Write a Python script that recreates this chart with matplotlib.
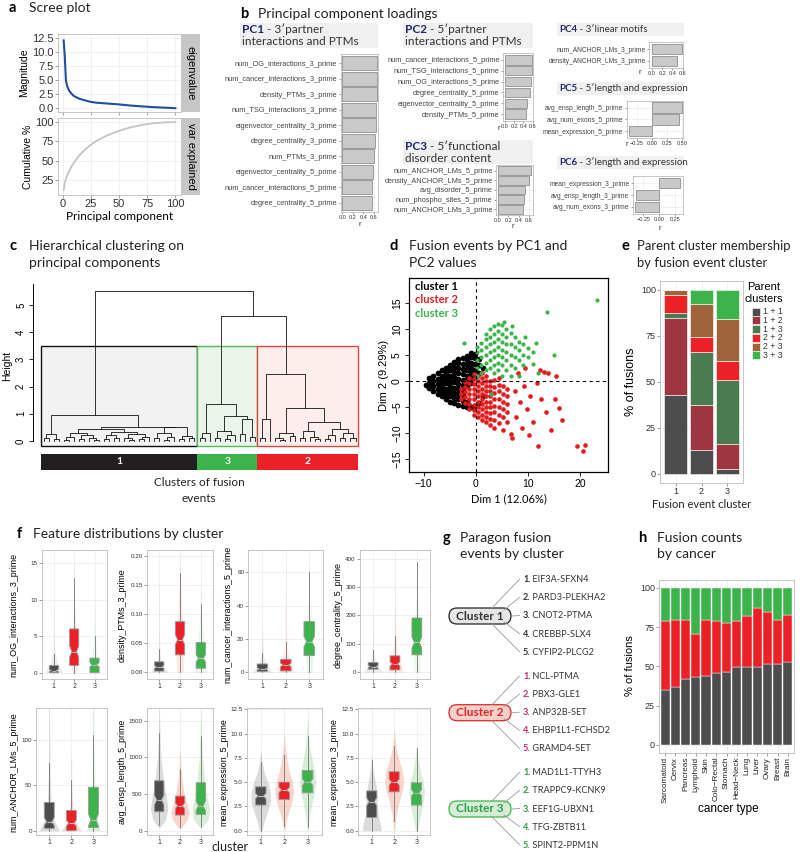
#!/usr/bin/env python3
import numpy as np
import matplotlib
matplotlib.use('Agg')
import matplotlib.pyplot as plt
from matplotlib.patches import Rectangle, FancyBboxPatch

W, H = 800, 852
TF = ['Lato', 'DejaVu Sans']          # title / label font (Myriad-like)
plt.rcParams['font.family'] = ['Liberation Sans', 'DejaVu Sans']

GRAY, RED, GREEN = '#4d4d4d', '#ec2027', '#3cb44b'
NAVY = '#1f2a6e'

# ---------------- a: scree plot ----------------
pc_idx = [1, 2, 3, 4, 5, 6, 8, 10, 12, 15, 20, 25, 30, 40, 50, 60, 70, 80, 90, 100]
eigenvalue = [12.06, 9.29, 5.0, 4.0, 3.5, 3.1, 2.6, 2.2, 2.0, 1.7, 1.4, 1.15, 1.0,
              0.85, 0.7, 0.5, 0.35, 0.22, 0.12, 0.03]
cum_var = [12.06, 21.35, 26.4, 30.4, 33.9, 37.0, 42.5, 47.2, 51.4, 57.0, 64.5, 70.5,
           75.5, 83.0, 88.5, 93.0, 96.2, 98.3, 99.5, 100.0]

# ---------------- b: loadings ----------------
pc1_feats = ['num_OG_interactions_3_prime', 'num_cancer_interactions_3_prime',
             'density_PTMs_3_prime', 'num_TSG_interactions_3_prime',
             'eigenvector_centrality_3_prime', 'degree_centrality_3_prime',
             'num_PTMs_3_prime', 'eigenvector_centrality_5_prime',
             'num_cancer_interactions_5_prime', 'degree_centrality_5_prime']
pc1_r = [0.662, 0.662, 0.657, 0.638, 0.638, 0.619, 0.594, 0.581, 0.569, 0.569]
pc2_feats = ['num_cancer_interactions_5_prime', 'num_TSG_interactions_5_prime',
             'num_OG_interactions_5_prime', 'degree_centrality_5_prime',
             'eigenvector_centrality_5_prime', 'density_PTMs_5_prime']
pc2_r = [0.58, 0.58, 0.565, 0.55, 0.47, 0.457]
pc3_feats = ['num_ANCHOR_LMs_5_prime', 'density_ANCHOR_LMs_5_prime', 'avg_disorder_5_prime',
             'num_phospho_sites_5_prime', 'num_ANCHOR_LMs_3_prime']
pc3_r = [0.64, 0.61, 0.53, 0.50, 0.49]
pc4_feats = ['num_ANCHOR_LMs_3_prime', 'density_ANCHOR_LMs_3_prime']
pc4_r = [0.58, 0.49]
pc5_feats = ['avg_ensp_length_5_prime', 'avg_num_exons_5_prime', 'mean_expression_5_prime']
pc5_r = [0.50, 0.46, -0.38]
pc6_feats = ['mean_expression_3_prime', 'avg_ensp_length_3_prime', 'avg_num_exons_3_prime']
pc6_r = [0.33, -0.36, -0.38]

# ---------------- c: dendrogram (height, left, right); L = leaf ----------------
L = None
cluster1_tree = [0.95,
                 [0.25, [0.12, L, L], [0.06, L, L]],
                 [0.52,
                  [0.45,
                   [0.30, [0.15, [0.05, L, L], L], [0.22, [0.08, L, L], [0.10, L, [0.04, L, L]]]],
                   [0.32, [0.20, [0.07, L, L], [0.12, L, L]],
                    [0.25, [0.10, L, [0.05, L, L]], [0.14, [0.06, L, L], L]]]],
                  [0.50,
                   [0.28, [0.10, L, L], [0.15, [0.05, L, L], L]],
                   [0.18, [0.06, L, L], [0.09, L, L]]]]]
cluster3_tree = [1.35,
                 [0.30, [0.10, L, L], L],
                 [0.93,
                  [0.35, [0.12, L, L], [0.20, [0.08, L, L], L]],
                  [0.80, [0.25, L, L], [0.15, L, L]]]]
cluster2_tree = [2.45,
                 [0.82, [0.10, L, L], L],
                 [1.20,
                  [0.30, [0.12, L, [0.05, L, L]], [0.18, L, L]],
                  [0.68,
                   [0.35, [0.10, L, L], [0.15, L, [0.06, L, L]]],
                   [0.45, [0.20, [0.08, L, L], L], [0.30, [0.10, L, L], [0.12, L, L]]]]]]
full_tree = [5.5, cluster1_tree, [4.6, cluster3_tree, cluster2_tree]]
tree_order = ['1', '3', '2']
cut_height = 3.5

# ---------------- d: PC1 / PC2 scatter ----------------
cluster1_pts = [
    (-9.6, -0.8), (-8.9, -1.4), (-8.9, -0.4), (-8.9, 0.5),
    (-8.1, -2.0), (-8.1, -1.0), (-8.1, 0.0), (-8.1, 1.0),
    (-7.3, -2.6), (-7.3, -1.6), (-7.3, -0.6), (-7.3, 0.4), (-7.3, 1.4),
    (-6.5, -3.0), (-6.5, -2.0), (-6.5, -1.0), (-6.5, 0.0), (-6.5, 1.0), (-6.5, 2.0),
    (-5.7, -3.5), (-5.7, -2.5), (-5.7, -1.5), (-5.7, -0.5), (-5.7, 0.5), (-5.7, 1.5), (-5.7, 2.5),
    (-4.9, -4.0), (-4.9, -3.0), (-4.9, -2.0), (-4.9, -1.0), (-4.9, 0.0), (-4.9, 1.0), (-4.9, 2.0),
    (-4.9, 3.0),
    (-4.1, -4.3), (-4.1, -3.3), (-4.1, -2.3), (-4.1, -1.3), (-4.1, -0.3), (-4.1, 0.7), (-4.1, 1.7),
    (-4.1, 2.7), (-4.1, 3.6),
    (-3.3, -4.6), (-3.3, -3.6), (-3.3, -2.6), (-3.3, -1.6), (-3.3, -0.6), (-3.3, 0.4), (-3.3, 1.4),
    (-3.3, 2.4), (-3.3, 3.4), (-3.3, 4.2),
    (-2.5, -4.8), (-2.5, -3.8), (-2.5, -2.8), (-2.5, -1.8), (-2.5, -0.8), (-2.5, 0.2), (-2.5, 1.2),
    (-2.5, 2.2), (-2.5, 3.2), (-2.5, 4.4),
    (-1.7, -5.0), (-1.7, -4.0), (-1.7, -1.0), (-1.7, 0.0), (-1.7, 1.0), (-1.7, 2.0), (-1.7, 3.0),
    (-1.7, 4.0), (-1.7, 4.8),
    (-0.9, -5.0), (-0.9, -0.5), (-0.9, 0.5), (-0.9, 1.5), (-0.9, 2.5), (-0.9, 3.5), (-0.9, 4.5),
    (-0.9, 5.3),
    (-0.1, -4.8), (-0.1, 0.8), (-0.1, 2.0), (-0.1, 3.2), (-0.1, 4.4), (-0.1, 5.2),
    (0.7, -4.2), (0.7, 1.5), (0.7, 3.0), (0.7, 4.2), (1.5, -3.0), (1.5, 2.5)]
cluster2_pts = [
    (-2.8, -3.5), (-2.8, -2.5), (-2.8, -1.5),
    (-2.0, -4.2), (-2.0, -3.2), (-2.0, -2.2), (-2.0, -1.2), (-2.0, -0.3),
    (-1.2, -5.5), (-1.2, -4.5), (-1.2, -3.5), (-1.2, -2.5), (-1.2, -1.5), (-1.2, -0.5), (-1.2, 0.5),
    (-0.4, -6.5), (-0.4, -5.6), (-0.4, -4.6), (-0.4, -3.6), (-0.4, -2.6), (-0.4, -1.6), (-0.4, -0.6),
    (-0.4, 0.4), (-0.4, 1.3),
    (0.4, -7.0), (0.4, -6.0), (0.4, -5.0), (0.4, -4.0), (0.4, -3.0), (0.4, -2.0), (0.4, -1.0),
    (0.4, 0.0), (0.4, 1.0),
    (1.2, -7.5), (1.2, -6.5), (1.2, -5.5), (1.2, -4.5), (1.2, -3.5), (1.2, -2.5), (1.2, -1.5),
    (1.2, -0.5), (1.2, 0.5), (1.2, 1.5),
    (2.0, -8.0), (2.0, -7.0), (2.0, -6.0), (2.0, -5.0), (2.0, -4.0), (2.0, -3.0), (2.0, -2.0),
    (2.0, -1.0), (2.0, 0.0), (2.0, 1.0),
    (2.8, -8.5), (2.8, -7.3), (2.8, -6.2), (2.8, -5.0), (2.8, -4.0), (2.8, -3.0), (2.8, -2.0),
    (2.8, -1.0), (2.8, 0.0),
    (3.6, -9.0), (3.6, -7.5), (3.6, -6.0), (3.6, -4.8), (3.6, -3.5), (3.6, -2.3), (3.6, -1.2), (3.6, 0.2),
    (4.4, -8.2), (4.4, -6.5), (4.4, -5.0), (4.4, -3.5), (4.4, -2.0), (4.4, -0.8), (4.4, 0.5),
    (5.2, -9.5), (5.2, -7.0), (5.2, -5.5), (5.2, -4.0), (5.2, -2.5), (5.2, -1.0),
    (6.0, -8.0), (6.0, -6.0), (6.0, -4.5), (6.0, -3.0), (6.0, -1.5),
    (6.8, -10.2), (7.5, -2.0), (7.8, -7.0), (8.5, -4.0), (8.8, -9.0), (9.3, -1.0), (9.8, -5.5),
    (10.5, -3.0), (11.0, -8.0), (11.8, -0.5), (12.3, 2.0), (13.2, 1.7), (13.8, 1.5), (12.5, -3.5),
    (13.5, -6.0), (14.5, -9.5), (16.0, -5.2), (16.5, -7.5), (15.2, -3.5), (10.2, -10.5),
    (7.0, -11.0), (19.5, -12.6), (21.0, -12.3), (20.6, -13.6), (12.0, -12.5), (8.2, 1.5),
    (9.5, 2.5), (15.5, 1.0)]
cluster3_pts = [
    (0.3, 1.0), (0.3, 2.5), (0.3, 4.0), (0.3, 5.5), (0.3, 6.5),
    (1.1, 1.5), (1.1, 3.0), (1.1, 4.5), (1.1, 6.0), (1.1, 7.2),
    (1.9, 2.0), (1.9, 3.5), (1.9, 5.0), (1.9, 6.5), (1.9, 8.0), (1.9, 9.0),
    (2.7, 2.5), (2.7, 4.0), (2.7, 5.5), (2.7, 7.0), (2.7, 8.5), (2.7, 10.0),
    (3.5, 1.5), (3.5, 3.0), (3.5, 4.5), (3.5, 6.0), (3.5, 7.5), (3.5, 9.0), (3.5, 10.5),
    (4.3, 2.0), (4.3, 3.5), (4.3, 5.0), (4.3, 6.5), (4.3, 8.0), (4.3, 9.5), (4.3, 11.0),
    (5.1, 1.0), (5.1, 3.0), (5.1, 4.5), (5.1, 6.0), (5.1, 7.5), (5.1, 9.0), (5.1, 10.8),
    (5.9, 2.0), (5.9, 4.0), (5.9, 5.5), (5.9, 7.0), (5.9, 8.5), (5.9, 10.0),
    (6.7, 1.0), (6.7, 3.0), (6.7, 5.0), (6.7, 7.0), (6.7, 9.2),
    (7.5, 2.5), (7.5, 4.5), (7.5, 6.5), (7.5, 8.5),
    (8.3, 1.0), (8.3, 4.0), (8.3, 6.0), (8.3, 7.5),
    (9.1, 3.0), (9.1, 5.0), (9.1, 7.0), (10.0, 4.5), (10.0, 6.2), (11.0, 3.2), (11.0, 5.5),
    (-2.3, 7.2), (13.6, 13.3), (23.2, 15.5), (12.0, 1.5), (15.0, 5.0), (9.5, 8.5), (7.0, 10.5),
    (5.5, 11.3), (11.5, 7.2), (3.0, -2.5)]

# ---------------- e: parent cluster membership (% per fusion cluster) ----------------
fusion_clusters = ['1', '2', '3']
parent_labels = ['1 + 1', '1 + 2', '1 + 3', '2 + 2', '2 + 3', '3 + 3']
parent_colors = ['#4d4d4d', '#9e3641', '#4b7c51', '#ec2027', '#a0643c', '#3cb44b']
parent_share = [[43.0, 13.0, 2.8],
                [41.5, 24.3, 13.5],
                [2.8, 29.2, 34.9],
                [9.9, 8.0, 10.2],
                [2.8, 18.1, 23.0],
                [0.0, 7.4, 15.6]]

# ---------------- f: feature distributions ----------------
f_names = ['num_OG_interactions_3_prime', 'density_PTMs_3_prime',
           'num_cancer_interactions_5_prime', 'degree_centrality_5_prime',
           'num_ANCHOR_LMs_5_prime', 'avg_ensp_length_5_prime',
           'mean_expression_5_prime', 'mean_expression_3_prime']
f_whislo = [[0, 0, 0], [0, 0, 0], [0, 0, 0], [0, 0, 0],
            [0, 0, 0], [78, 47, 50], [0, 0.5, 0.4], [0, 1.0, 0]]
f_q1 = [[0, 1.0, 0], [0.002, 0.030, 0.007], [0.5, 0.8, 10.0], [10.6, 8.0, 61.0],
        [2.6, 0, 3.7], [259, 214, 223], [2.64, 3.2, 3.9], [1.37, 4.0, 2.64]]
f_med = [[0.3, 2.9, 1.1], [0.009, 0.056, 0.024], [2.0, 4.4, 18.4], [19.8, 29.0, 104.6],
         [9.9, 8.3, 11.8], [419, 341, 341], [3.57, 4.2, 5.0], [2.98, 5.0, 3.9]]
f_q3 = [[1.0, 6.0, 2.0], [0.018, 0.087, 0.051], [5.0, 7.8, 30.4], [34.0, 57.6, 190.6],
        [31.3, 22.4, 48.0], [682, 473, 655], [4.52, 5.0, 6.2], [4.1, 6.07, 4.93]]
f_whishi = [[2.5, 13.0, 5.0], [0.040, 0.170, 0.117], [11.6, 18.0, 60.4], [79, 126, 387],
            [75, 56, 106], [1337, 837, 1292], [7.1, 7.8, 9.7], [7.3, 8.7, 8.47]]
f_ylim = [(-0.9, 16.8), (-0.012, 0.21), (-4.2, 73.4), (-25, 430),
          (-4.7, 135), (-58, 1670), (-0.44, 12.6), (-0.44, 12.6)]
f_yticks = [[0, 5, 10, 15], [0, 0.05, 0.10, 0.15, 0.20], [0, 20, 40, 60], [0, 100, 200, 300, 400],
            [0, 50, 100], [0, 500, 1000, 1500], [0, 2.5, 5, 7.5, 10, 12.5], [0, 2.5, 5, 7.5, 10, 12.5]]
f_fmt = ['%d', '%.2f', '%d', '%d', '%d', '%d', '%.1f', '%.1f']
# violin outlines: y positions and half widths per feature / cluster
vio_y = [
    [[0, 0.5, 1.5, 3, 5, 9], [0, 1, 3, 6, 10, 15], [0, 1, 2, 4, 7, 10]],
    [[0, 0.005, 0.015, 0.03, 0.06, 0.15], [0, 0.03, 0.06, 0.1, 0.15, 0.2], [0, 0.02, 0.05, 0.08, 0.12, 0.16]],
    [[0, 2, 5, 10, 20, 30], [0, 3, 8, 15, 25, 65], [0, 10, 20, 35, 50, 65]],
    [[0, 15, 30, 60, 120, 210], [0, 20, 50, 100, 200, 300], [0, 50, 100, 200, 300, 420]],
    [[0, 5, 15, 30, 60, 100, 135], [0, 5, 15, 30, 50, 80], [0, 5, 15, 30, 60, 100, 135]],
    [[50, 150, 300, 450, 700, 1000, 1300, 1650], [30, 150, 250, 350, 500, 700, 900, 1100],
     [50, 150, 300, 450, 700, 1000, 1300, 1650]],
    [[0, 1, 2, 3, 3.8, 5, 6, 7, 8.2], [0, 1, 2, 3, 4, 5, 6, 7.5, 9, 10],
     [0, 1.5, 3, 4, 5, 6, 7, 8.5, 10, 11.5]],
    [[0, 0.5, 1.5, 2.5, 3.5, 4.5, 5.5, 6.5, 7.7], [0, 1.5, 3, 4, 5, 6, 7, 8.5, 10.2],
     [0, 1, 2, 3, 4, 5, 6, 7.5, 8.6]]]
vio_w = [
    [[0.45, 0.35, 0.15, 0.05, 0.02, 0.005], [0.12, 0.15, 0.12, 0.08, 0.03, 0.005],
     [0.3, 0.25, 0.15, 0.06, 0.02, 0.005]],
    [[0.45, 0.35, 0.15, 0.05, 0.02, 0.005], [0.15, 0.2, 0.18, 0.1, 0.04, 0.005],
     [0.3, 0.25, 0.15, 0.08, 0.03, 0.005]],
    [[0.45, 0.3, 0.15, 0.05, 0.02, 0.005], [0.35, 0.3, 0.15, 0.06, 0.02, 0.005],
     [0.12, 0.15, 0.12, 0.08, 0.03, 0.005]],
    [[0.45, 0.3, 0.15, 0.05, 0.02, 0.005], [0.35, 0.3, 0.15, 0.06, 0.02, 0.005],
     [0.12, 0.15, 0.13, 0.08, 0.03, 0.005]],
    [[0.45, 0.35, 0.15, 0.08, 0.04, 0.02, 0.01], [0.45, 0.3, 0.12, 0.05, 0.02, 0.01],
     [0.3, 0.25, 0.15, 0.08, 0.04, 0.02, 0.01]],
    [[0.05, 0.3, 0.42, 0.35, 0.2, 0.08, 0.04, 0.01], [0.05, 0.35, 0.45, 0.35, 0.2, 0.1, 0.04, 0.01],
     [0.05, 0.35, 0.42, 0.3, 0.18, 0.08, 0.04, 0.01]],
    [[0.05, 0.15, 0.3, 0.42, 0.42, 0.3, 0.15, 0.06, 0.01],
     [0.02, 0.08, 0.2, 0.33, 0.4, 0.35, 0.22, 0.1, 0.03, 0.01],
     [0.02, 0.08, 0.2, 0.3, 0.35, 0.32, 0.22, 0.1, 0.04, 0.01]],
    [[0.42, 0.4, 0.3, 0.25, 0.25, 0.2, 0.12, 0.05, 0.01],
     [0.02, 0.08, 0.22, 0.35, 0.42, 0.38, 0.25, 0.08, 0.01],
     [0.05, 0.12, 0.22, 0.3, 0.35, 0.3, 0.18, 0.06, 0.01]]]

# ---------------- g: paragon fusions ----------------
paragon_c1 = ['EIF3A-SFXN4', 'PARD3-PLEKHA2', 'CNOT2-PTMA', 'CREBBP-SLX4', 'CYFIP2-PLCG2']
paragon_c2 = ['NCL-PTMA', 'PBX3-GLE1', 'ANP32B-SET', 'EHBP1L1-FCHSD2', 'GRAMD4-SET']
paragon_c3 = ['MAD1L1-TTYH3', 'TRAPPC9-KCNK9', 'EEF1G-UBXN1', 'TFG-ZBTB11', 'SPINT2-PPM1N']

# ---------------- h: fusion counts by cancer ----------------
cancers = ['Sarcomatoid', 'Cervix', 'Pancreas', 'Lymphoid', 'Skin', 'Colo\u2212Rectal', 'Stomach',
           'Head\u2212Neck', 'Lung', 'Liver', 'Ovary', 'Breast', 'Brain']
cancer_c1 = [35.1, 36.8, 42.1, 43.0, 44.0, 45.7, 46.2, 49.4, 49.4, 49.8, 51.5, 51.7, 52.6]
cancer_c2 = [43.6, 43.0, 37.7, 27.6, 35.8, 33.4, 31.5, 29.7, 32.5, 37.4, 33.0, 28.1, 30.4]
cancer_c3 = [21.3, 20.2, 20.2, 29.4, 20.2, 20.9, 22.3, 20.9, 18.1, 12.8, 15.5, 20.2, 17.0]


# =====================================================================
fig = plt.figure(figsize=(W / 100, H / 100), dpi=100)


def px_ax(x0, y0, x1, y1, **kw):
    return fig.add_axes([x0 / W, 1 - y1 / H, (x1 - x0) / W, (y1 - y0) / H], **kw)


ov = px_ax(0, 0, W, H, zorder=20)
ov.set_xlim(0, W)
ov.set_ylim(H, 0)
ov.axis('off')


def gg_style(ax, size=5):
    ax.set_facecolor('white')
    for sp in ax.spines.values():
        sp.set_color('#bdbdbd')
        sp.set_linewidth(0.6)
    ax.grid(True, color='#ebebeb', lw=0.5)
    ax.set_axisbelow(True)
    ax.tick_params(length=2, width=0.5, color='#777', labelsize=size, pad=1, labelcolor='#333')


def panel_title(letter, xl, xt, y, lines, fs=10):
    ov.text(xl, y, letter, fontsize=10.5, fontweight='bold', family=TF, va='center')
    for i, line in enumerate(lines):
        ov.text(xt, y + i * 16.5, line, fontsize=fs, family=TF, va='center', color='#222')


def chain(x, y, parts, **kw):
    # parts: list of (text, dict of style)
    t = ov.text(x, y, parts[0][0], va='center', **kw, **parts[0][1])
    for s, st in parts[1:]:
        t = ov.annotate(s, xy=(1, 0), xycoords=t, va='bottom', ha='left', **kw, **st)
    return t


# ---------------- panel a ----------------
panel_title('a', 9, 29, 8, ['Scree plot'])
ax_a1 = px_ax(58, 34, 181, 112)
gg_style(ax_a1, 8)
ax_a1.plot(pc_idx, eigenvalue, color='#1f4f9e', lw=1.5)
ax_a1.set_xlim(-4, 105)
ax_a1.set_ylim(-0.65, 13.2)
ax_a1.set_yticks([0, 2.5, 5, 7.5, 10, 12.5])
ax_a1.set_yticklabels(['%.1f' % v for v in [0, 2.5, 5, 7.5, 10, 12.5]])
ax_a1.set_xticks([0, 25, 50, 75, 100])
ax_a1.tick_params(labelbottom=False)
ax_a1.set_ylabel('Magnitude', fontsize=7.5, labelpad=2)

ax_a2 = px_ax(58, 118, 181, 195)
gg_style(ax_a2, 8)
ax_a2.plot(pc_idx, cum_var, color='#c4c4c4', lw=1.3)
ax_a2.set_xlim(-4, 105)
ax_a2.set_ylim(5.6, 105.2)
ax_a2.set_yticks([25, 50, 75, 100])
ax_a2.set_xticks([0, 25, 50, 75, 100])
ax_a2.set_ylabel('Cumulative %', fontsize=7.5, labelpad=2)
ax_a2.set_xlabel('Principal component', fontsize=8.5, family=TF, labelpad=1)

for (y0, y1), lab in zip([(34, 112), (118, 195)], ['eigenvalue', 'var explained']):
    st = px_ax(181, y0, 200, y1)
    st.set_facecolor('#c6c6c6')
    st.set_xticks([])
    st.set_yticks([])
    for sp in st.spines.values():
        sp.set_visible(False)
    st.text(0.5, 0.5, lab, rotation=270, ha='center', va='center', fontsize=8, transform=st.transAxes)

# ---------------- panel b ----------------
panel_title('b', 240, 258, 14, ['Principal component loadings'])


def header(x0, y0, x1, y1, pc, lines, fs):
    ov.add_patch(Rectangle((x0, y0), x1 - x0, y1 - y0, facecolor='#f0f0f0', edgecolor='none', zorder=0))
    step = (y1 - y0) / len(lines)
    for i, line in enumerate(lines):
        yc = y0 + step * (i + 0.5)
        if i == 0:
            chain(x0 + 2, yc, [(pc, dict(color=NAVY, fontweight='bold')),
                               (line, dict(color='#333'))], fontsize=fs, family=TF)
        else:
            ov.text(x0 + 2, yc, line, fontsize=fs, family=TF, va='center', color='#333')


def loading_panel(box, feats, vals, xlim, ticks, ticklabels, rpos, lsize):
    ax = px_ax(*box)
    gg_style(ax, 4)
    n = len(feats)
    pos = np.arange(n, 0, -1)
    ax.barh(pos, vals, height=0.9, color='#c9c9c9', edgecolor='#7f7f7f', lw=0.5)
    ax.set_yticks(pos)
    ax.set_yticklabels(feats, fontsize=lsize, color='#444')
    ax.set_ylim(0.4, n + 0.6)
    ax.set_xlim(*xlim)
    ax.set_xticks(ticks)
    ax.set_xticklabels(ticklabels, fontsize=4)
    ax.tick_params(length=1.5)
    ov.text(rpos[0], rpos[1], 'r', fontsize=5.5, ha='center', va='center', color='#333')
    return ax


header(240, 23, 378, 48, 'PC1', [' - 3\u2032partner', 'interactions and PTMs'], 8.5)
header(403, 23, 533, 48, 'PC2', [' - 5\u2032partner', 'interactions and PTMs'], 8.5)
header(403, 140, 533, 164, 'PC3', [' - 5\u2032functional', 'disorder content'], 8.5)
header(557, 23, 684, 36, 'PC4', [' - 3\u2032linear motifs'], 7)
header(557, 82, 684, 95, 'PC5', [' - 5\u2032length and expression'], 7)
header(557, 156, 684, 169, 'PC6', [' - 3\u2032length and expression'], 7)

t6 = [0, 0.2, 0.4, 0.6]
t6l = ['0.0', '0.2', '0.4', '0.6']
loading_panel((340.7, 54, 378, 212), pc1_feats, pc1_r, (-0.03, 0.675), t6, t6l, (360, 225), 5.3)
loading_panel((503, 53, 533, 121), pc2_feats, pc2_r, (-0.043, 0.609), t6, t6l, (499, 129), 5.3)
loading_panel((496, 165, 533, 215), pc3_feats, pc3_r, (-0.033, 0.679), t6, t6l, (513, 226), 5.3)
loading_panel((649, 42, 683, 68), pc4_feats, pc4_r, (-0.059, 0.608), t6, t6l, (640, 73), 4.8)
loading_panel((626.7, 100.7, 683, 138), pc5_feats, pc5_r, (-0.426, 0.522),
              [-0.25, 0, 0.25, 0.5], ['\u22120.25', '0.00', '0.25', '0.50'], (627, 144), 4.8)
loading_panel((632.7, 176, 682.7, 214), pc6_feats, pc6_r, (-0.416, 0.365),
              [-0.25, 0, 0.25], ['\u22120.25', '0.00', '0.25'], (660, 228), 4.8)

# ---------------- panel c ----------------
panel_title('c', 10, 29, 246.5, ['Hierarchical clustering on', 'principal components'])

segs = []
leaf_counter = [0]


def layout(node):
    if node is None:
        x = leaf_counter[0]
        leaf_counter[0] += 1
        return x, 0.0
    h, a, b = node
    xa, ha = layout(a)
    xb, hb = layout(b)
    segs.append(([xa, xa, xb, xb], [ha, h, h, hb]))
    return (xa + xb) / 2, h


def count_leaves(node):
    return 1 if node is None else count_leaves(node[1]) + count_leaves(node[2])


layout(full_tree)
n_leaves = leaf_counter[0]
sizes = [count_leaves(cluster1_tree), count_leaves(cluster3_tree), count_leaves(cluster2_tree)]
starts = np.cumsum([0] + sizes[:-1])
band_colors = {'1': '#231f20', '3': GREEN, '2': RED}
box_fill = {'1': '#f2f2f2', '3': '#e9f5e9', '2': '#fdeeec'}
box_edge = {'1': '#111111', '3': '#55b85c', '2': '#d9473f'}

sp = (355.5 - 43.5) / (n_leaves - 1)
xl_c = (-(43.5 - 33) / sp, n_leaves - 1 + (362 - 355.5) / sp)
ax_c = px_ax(33, 284, 362, 448)
for xs, ys in segs:
    ax_c.plot(xs, ys, color='#111', lw=0.6, zorder=3)
for lab, s0, n in zip(tree_order, starts, sizes):
    ax_c.add_patch(Rectangle((s0 - 0.5, -0.17), n, cut_height + 0.17, facecolor=box_fill[lab],
                             edgecolor=box_edge[lab], lw=1.0, zorder=1))
ax_c.set_xlim(*xl_c)
ax_c.set_ylim(-0.26, 5.77)
for k in ['top', 'right', 'bottom']:
    ax_c.spines[k].set_visible(False)
ax_c.spines['left'].set_linewidth(0.7)
ax_c.spines['left'].set_bounds(0, 5.77)
ax_c.set_xticks([])
ax_c.set_yticks([0, 1, 2, 3, 4, 5])
ax_c.set_yticklabels(['0', '1', '2', '3', '4', '5'], rotation=90, va='center', fontsize=7)
ax_c.tick_params(length=3, width=0.6, pad=2)
ax_c.set_ylabel('Height', fontsize=7.5, labelpad=3)
ax_c.patch.set_alpha(0)

ax_band = px_ax(33, 454, 362, 470)
for lab, s0, n in zip(tree_order, starts, sizes):
    ax_band.barh(0, n, left=s0 - 0.5, height=1, color=band_colors[lab])
    ax_band.text(s0 - 0.5 + n / 2, 0, lab, color='white', ha='center', va='center', fontsize=7.5,
                 family=TF, fontweight='bold')
ax_band.set_xlim(*xl_c)
ax_band.set_ylim(-0.5, 0.5)
ax_band.axis('off')
ov.text(199, 483, 'Clusters of fusion', fontsize=8.5, family=TF, ha='center', va='center', color='#222')
ov.text(199, 498, 'events', fontsize=8.5, family=TF, ha='center', va='center', color='#222')

# ---------------- panel d ----------------
panel_title('d', 389, 409, 246.5, ['Fusion events by PC1 and', 'PC2 values'])
ax_d = px_ax(409, 278, 608, 472.3)
for pts, col, sz in [(cluster1_pts, 'black', 17), (cluster2_pts, '#e41a1c', 11), (cluster3_pts, '#3cb44b', 9)]:
    ax_d.scatter([p[0] for p in pts], [p[1] for p in pts], s=sz, color=col, lw=0, zorder=3)
ax_d.axvline(0, color='black', ls=(0, (3, 3)), lw=0.8, zorder=4)
ax_d.axhline(0, color='black', ls=(0, (3, 3)), lw=0.8, zorder=4)
ax_d.set_xlim(-12.8, 25.4)
ax_d.set_ylim(-17.6, 19.75)
ax_d.set_xticks([-10, 0, 10, 20])
ax_d.set_xticklabels(['\u221210', '0', '10', '20'], fontsize=7.5)
ax_d.set_yticks([-15, -10, -5, 0, 5, 10, 15])
ax_d.set_yticklabels(['\u221215', '\u221210', '\u22125', '0', '5', '10', '15'], rotation=90,
                     va='center', fontsize=7.5)
ax_d.tick_params(length=3, width=0.6, pad=2)
for s in ax_d.spines.values():
    s.set_linewidth(0.9)
ax_d.set_xlabel('Dim 1 (12.06%)', fontsize=8, family=TF, labelpad=3)
ax_d.set_ylabel('Dim 2 (9.29%)', fontsize=8, labelpad=2)
for i, (lab, col) in enumerate([('cluster 1', 'black'), ('cluster 2', '#e41a1c'), ('cluster 3', '#3cb44b')]):
    ax_d.text(0.03, 0.958 - i * 0.07, lab, color=col, fontsize=8, family=TF, fontweight='bold',
              transform=ax_d.transAxes, va='center')

# ---------------- panel e ----------------
panel_title('e', 621, 637, 246.5, ['Parent cluster membership', 'by fusion event cluster'], fs=9.4)
ax_e = px_ax(660, 280.7, 743, 483)
gg_style(ax_e, 6.5)
xpos = np.arange(1, len(fusion_clusters) + 1)
bottom = np.zeros(len(fusion_clusters))
for share, col in zip(parent_share, parent_colors):
    ax_e.bar(xpos, share, bottom=bottom, width=0.9, color=col, edgecolor='white', lw=0.4)
    bottom += np.array(share)
ax_e.set_xlim(0.4, 3.6)
ax_e.set_ylim(-5, 105)
ax_e.set_yticks([0, 25, 50, 75, 100])
ax_e.set_xticks(xpos)
ax_e.set_xticklabels(fusion_clusters, fontsize=6.5)
ov.text(631, 382, '% of fusions', rotation=90, fontsize=9, ha='center', va='center')
ov.text(702, 504, 'Fusion event cluster', fontsize=8, family=TF, ha='center', va='center', color='#222')
ov.text(764, 287, 'Parent', fontsize=8, ha='center', va='center')
ov.text(764, 299, 'clusters', fontsize=8, ha='center', va='center')
for i, (lab, col) in enumerate(zip(parent_labels, parent_colors)):
    yc = 311.7 + i * 8.7
    ov.add_patch(Rectangle((751.5, yc - 4), 8, 8, facecolor=col, edgecolor='white', lw=0.4))
    ov.text(763, yc, lab, fontsize=6.3, va='center', color='#333')

# ---------------- panel f ----------------
panel_title('f', 17, 33, 534, ['Feature distributions by cluster'])
boxes_f = [(41.7, 550, 106.7, 679.3), (146.7, 550, 213.3, 679.3), (248.3, 550, 323.3, 679.3),
           (360, 550, 430, 679.3), (36, 708.3, 106.7, 835), (146.7, 708.3, 213.3, 835),
           (246.7, 708.3, 321.7, 835), (358.3, 708.3, 430, 835)]
ylab_x = [14, 122, 228, 338, 14, 122, 224, 334]
clu_fill = [GRAY, RED, GREEN]
vio_col = ['#9a9a9a', '#f08a6a', '#8fcf8f']
for fi, name in enumerate(f_names):
    ax = px_ax(*boxes_f[fi])
    gg_style(ax, 4.5)
    va = 0.18 if fi < 4 else 0.35
    for ci in range(3):
        yy = np.array(vio_y[fi][ci])
        ww = np.array(vio_w[fi][ci])
        ax.fill_betweenx(yy, ci + 1 - ww, ci + 1 + ww, color=vio_col[ci], alpha=va, lw=0)
    stats = []
    for ci in range(3):
        q1, med, q3 = f_q1[fi][ci], f_med[fi][ci], f_q3[fi][ci]
        stats.append(dict(whislo=f_whislo[fi][ci], q1=q1, med=med, q3=q3, whishi=f_whishi[fi][ci],
                          cilo=max(q1, med - 0.15 * (q3 - q1)), cihi=min(q3, med + 0.15 * (q3 - q1)),
                          fliers=[]))
    bp = ax.bxp(stats, positions=[1, 2, 3], widths=0.45, patch_artist=True, shownotches=True,
                showcaps=False, showfliers=False,
                boxprops=dict(edgecolor='#9a9a9a', lw=0.6),
                medianprops=dict(color='#bbbbbb', lw=0.8),
                whiskerprops=dict(color='#777777', lw=0.6))
    for b, c in zip(bp['boxes'], clu_fill):
        b.set_facecolor(c)
    ax.set_xlim(0.4, 3.6)
    ax.set_ylim(*f_ylim[fi])
    ax.set_yticks(f_yticks[fi])
    ax.set_yticklabels([f_fmt[fi] % v for v in f_yticks[fi]])
    ax.set_xticks([1, 2, 3])
    ax.set_xticklabels(['1', '2', '3'], fontsize=5)
    x0, y0, x1, y1 = boxes_f[fi]
    ov.text(ylab_x[fi], (y0 + y1) / 2, name, rotation=90, fontsize=6.4, ha='center', va='center')
ov.text(230, 847, 'cluster', fontsize=9, family=TF, ha='center', va='center', color='#222')

# ---------------- panel g ----------------
panel_title('g', 443, 460, 538, ['Paragon fusion', 'events by cluster'])
pill_styles = [('Cluster 1', paragon_c1, '#e6e6e6', '#222222', '#333333', '#333333', 616),
               ('Cluster 2', paragon_c2, '#f9d0c8', '#e0262c', '#d9262c', '#d6246e', 712.7),
               ('Cluster 3', paragon_c3, '#d5edd5', '#3cb44b', '#2e9e48', '#2e9e48', 809)]
start_off = [(12, -8), (24, -6), (32, 0), (24, 6), (12, 8)]
item_off = [-36.2, -18.1, 0, 18.1, 36.2]
for lab, items, fc, ec, tc, nc, cy in pill_styles:
    ov.add_patch(FancyBboxPatch((449, cy - 8), 62, 16, boxstyle='round,pad=0,rounding_size=8',
                                facecolor=fc, edgecolor=ec, lw=0.9))
    ov.text(480, cy, lab, fontsize=8.5, family=TF, fontweight='bold', color=tc, ha='center', va='center')
    for k, item in enumerate(items):
        yk = cy + item_off[k]
        ov.plot([480 + start_off[k][0], 519.5], [cy + start_off[k][1], yk - 0.5], color='#9a9a9a', lw=0.6)
        chain(523, yk, [('%d.' % (k + 1), dict(color=nc, fontweight='bold')),
                        (' ' + item, dict(color='#333'))], fontsize=6.6, family=TF)

# ---------------- panel h ----------------
panel_title('h', 638, 657, 538, ['Fusion counts', 'by cancer'])
ax_h = px_ax(659, 580, 794, 752.7)
gg_style(ax_h, 6.5)
xc = np.arange(1, len(cancers) + 1)
bot = np.zeros(len(cancers))
for share, col in [(cancer_c1, GRAY), (cancer_c2, RED), (cancer_c3, GREEN)]:
    ax_h.bar(xc, share, bottom=bot, width=0.9, color=col, edgecolor='white', lw=0.3)
    bot += np.array(share)
ax_h.set_xlim(0.4, len(cancers) + 0.6)
ax_h.set_ylim(-5, 105)
ax_h.set_yticks([0, 25, 50, 75, 100])
ax_h.set_xticks(xc)
ax_h.set_xticklabels(cancers, rotation=90, fontsize=5.9, color='#222')
ov.text(630, 666, '% of fusions', rotation=90, fontsize=8, ha='center', va='center')
ov.text(728, 809, 'cancer type', fontsize=8.5, ha='center', va='center')

fig.savefig('out.png', dpi=100)
